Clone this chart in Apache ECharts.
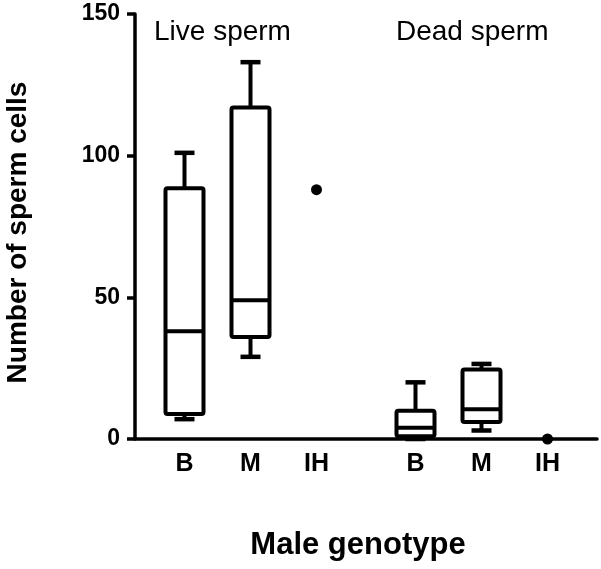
<!DOCTYPE html>
<html>
<head>
<meta charset="utf-8">
<script src="https://cdn.jsdelivr.net/npm/echarts@6/dist/echarts.min.js"></script>
<style>
  html, body { margin: 0; padding: 0; background: #fff; }
  #chart { width: 601px; height: 569px; }
</style>
</head>
<body>
<div id="chart"></div>
<script>
// x slots, blank ones keep the groups apart like in the figure
const categories = ['', 'B', '', 'M', '', 'IH', '', '', 'B', '', 'M', '', 'IH', ''];
const yTicks = [0, 50, 100, 150];

// [slot, min, q1, median, q3, max]
const liveBoxes = [
  [1, 7, 8.8, 38, 88.5, 101],
  [3, 29, 36, 49, 117, 133],
];
const deadBoxes = [
  [8, 0, 1, 4, 10, 20],
  [10, 3, 6, 10.5, 24.5, 26.5],
];
// IH only has one value each
const livePoints = [[5, 88]];
const deadPoints = [[12, 0]];

const font = "'Liberation Sans', Arial, sans-serif";

const chart = echarts.init(document.getElementById('chart'));

function renderBox(params, api) {
  const x = api.value(0);
  const lo = api.coord([x, api.value(1)]);
  const q1 = api.coord([x, api.value(2)]);
  const md = api.coord([x, api.value(3)]);
  const q3 = api.coord([x, api.value(4)]);
  const hi = api.coord([x, api.value(5)]);
  const cx = q3[0];
  const half = 19;
  const cap = 10;
  const line = { stroke: '#000', lineWidth: 4 };
  return {
    type: 'group',
    children: [
      { type: 'line', shape: { x1: cx, y1: q3[1], x2: cx, y2: hi[1] }, style: line },
      { type: 'line', shape: { x1: cx - cap, y1: hi[1], x2: cx + cap, y2: hi[1] }, style: { stroke: '#000', lineWidth: 4.5 } },
      { type: 'line', shape: { x1: cx, y1: q1[1], x2: cx, y2: lo[1] }, style: line },
      { type: 'line', shape: { x1: cx - cap, y1: lo[1], x2: cx + cap, y2: lo[1] }, style: { stroke: '#000', lineWidth: 4.5 } },
      {
        type: 'rect',
        shape: { x: cx - half, y: q3[1], width: half * 2, height: q1[1] - q3[1], r: 2 },
        style: { fill: '#fff', stroke: '#000', lineWidth: 4, lineJoin: 'round' },
      },
      { type: 'line', shape: { x1: cx - half, y1: md[1], x2: cx + half, y2: md[1] }, style: line },
    ],
  };
}

const option = {
  animation: false,
  backgroundColor: '#fff',
  textStyle: { fontFamily: font },
  grid: { left: 135, right: 4, top: 14, bottom: 130, containLabel: false, outerBoundsMode: 'none' },
  graphic: [
    { type: 'text', left: 154, top: 18, style: { text: 'Live sperm', font: '28px ' + font, fill: '#000' } },
    { type: 'text', left: 396, top: 18, style: { text: 'Dead sperm', font: '28px ' + font, fill: '#000' } },
  ],
  xAxis: {
    type: 'category',
    data: categories,
    boundaryGap: true,
    name: 'Male genotype',
    nameLocation: 'middle',
    nameGap: 91,
    nameTextStyle: { fontSize: 31, fontWeight: 'bold', color: '#000', padding: [0, 16, 0, 0] },
    axisLine: { lineStyle: { color: '#000', width: 3.5 } },
    axisTick: { show: false },
    axisLabel: { interval: 0, fontSize: 25, fontWeight: 'bold', color: '#000', margin: 13 },
    splitLine: { show: false },
  },
  yAxis: {
    type: 'value',
    min: yTicks[0],
    max: yTicks[yTicks.length - 1],
    interval: yTicks[1] - yTicks[0],
    name: 'Number of sperm cells',
    nameLocation: 'middle',
    nameRotate: 90,
    nameGap: 103,
    nameTextStyle: { fontSize: 28, fontWeight: 'bold', color: '#000', padding: [0, 12, 0, 0] },
    axisLine: { show: true, lineStyle: { color: '#000', width: 3.5 } },
    axisTick: { show: true, length: 8, lineStyle: { color: '#000', width: 3.5 } },
    axisLabel: { fontSize: 23, fontWeight: 'bold', color: '#000', margin: 15 },
    splitLine: { show: false },
  },
  series: [
    {
      name: 'Live sperm',
      type: 'custom',
      renderItem: renderBox,
      encode: { x: 0, y: [1, 2, 3, 4, 5] },
      data: liveBoxes,
      z: 3,
    },
    {
      name: 'Dead sperm',
      type: 'custom',
      renderItem: renderBox,
      encode: { x: 0, y: [1, 2, 3, 4, 5] },
      data: deadBoxes,
      z: 3,
    },
    {
      type: 'scatter',
      data: livePoints.concat(deadPoints),
      symbol: 'circle',
      symbolSize: 11,
      itemStyle: { color: '#000', opacity: 1 },
      z: 4,
    },
  ],
};

chart.setOption(option);
</script>
</body>
</html>
